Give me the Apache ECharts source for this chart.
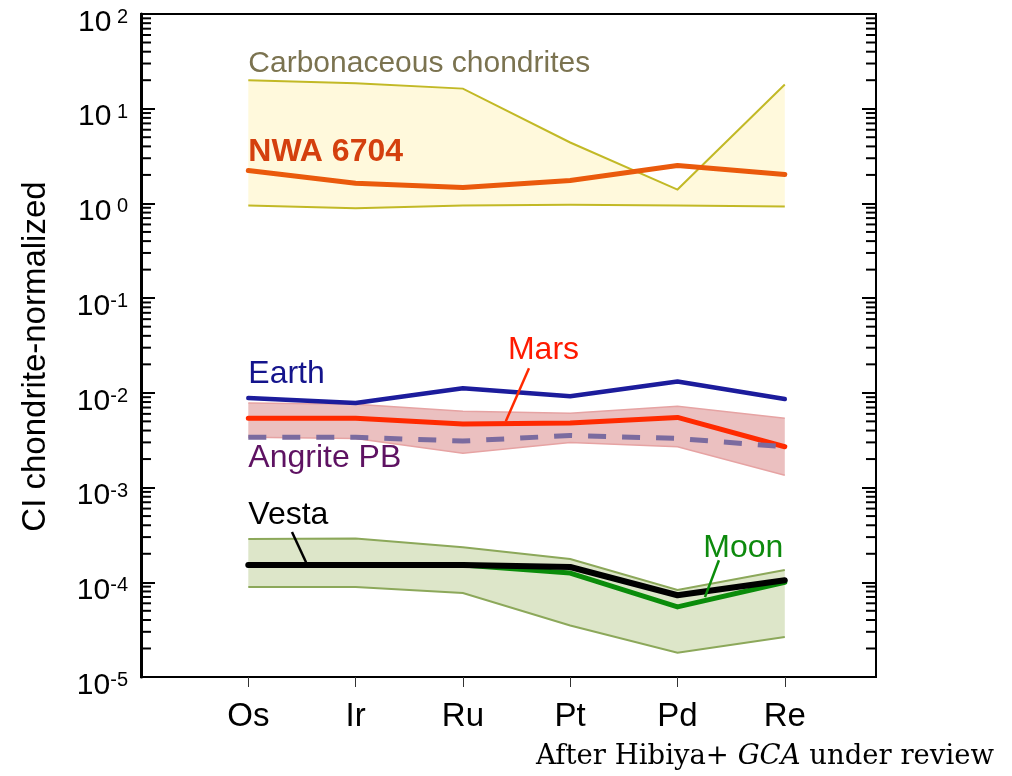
<!DOCTYPE html>
<html>
<head>
<meta charset="utf-8">
<script src="https://cdn.jsdelivr.net/npm/echarts@6/dist/echarts.min.js"></script>
<style>
  html, body { margin: 0; padding: 0; background: #fff; }
  #chart { width: 1012px; height: 776px; }
</style>
</head>
<body>
<div id="chart"></div>
<script>
// Highly siderophile elements, CI chondrite-normalized abundances
const categories = ['Os', 'Ir', 'Ru', 'Pt', 'Pd', 'Re'];

const carbUpper  = [20, 18.6, 16.3, 4.4, 1.4, 18];
const carbLower  = [0.95, 0.89, 0.95, 0.97, 0.95, 0.93];
const nwa6704    = [2.23, 1.63, 1.47, 1.75, 2.52, 2.02];

const earth      = [8.8e-3, 7.8e-3, 1.12e-2, 9.2e-3, 1.32e-2, 8.6e-3];
const mars       = [5.4e-3, 5.4e-3, 4.7e-3, 4.8e-3, 5.5e-3, 2.7e-3];
const marsUpper  = [7.8e-3, 7.6e-3, 6.4e-3, 6.1e-3, 7.2e-3, 5.4e-3];
const marsLower  = [3.4e-3, 3.3e-3, 2.3e-3, 3.0e-3, 2.7e-3, 1.35e-3];
const angritePB  = [3.4e-3, 3.4e-3, 3.1e-3, 3.55e-3, 3.3e-3, 2.7e-3];

const vesta      = [1.52e-4, 1.52e-4, 1.52e-4, 1.45e-4, 7.3e-5, 1.05e-4];
const moon       = [1.52e-4, 1.52e-4, 1.52e-4, 1.25e-4, 5.5e-5, 1.0e-4];
const moonUpper  = [2.86e-4, 2.9e-4, 2.35e-4, 1.76e-4, 8.3e-5, 1.35e-4];
const moonLower  = [8.9e-5, 8.9e-5, 7.7e-5, 3.5e-5, 1.8e-5, 2.64e-5];

// y axis: decades and the minor tick multipliers inside each decade
const decades = [-5, -4, -3, -2, -1, 0, 1];
const minorMultipliers = [2, 3, 4, 5, 6, 7, 8, 9];

const SANS = '"Liberation Sans", Arial, Helvetica, sans-serif';
const SERIF = '"DejaVu Serif", "Liberation Serif", serif';

// text annotations placed in data space: [category position, value]
const notes = [
  { text: 'Carbonaceous chondrites', at: [0, 30.0],    color: '#7b7350', size: 30, weight: 'normal' },
  { text: 'NWA 6704',                at: [0, 3.49],    color: '#d4400e', size: 32, weight: 'bold' },
  { text: 'Earth',                   at: [0, 0.0159],  color: '#14148c', size: 32, weight: 'normal' },
  { text: 'Mars',                    at: [2.42, 0.0285], color: '#ff1a00', size: 32, weight: 'normal' },
  { text: 'Angrite PB',              at: [0, 0.00204], color: '#5e1262', size: 32, weight: 'normal' },
  { text: 'Vesta',                   at: [0, 5.12e-4], color: '#000000', size: 32, weight: 'normal' },
  { text: 'Moon',                    at: [4.24, 2.30e-4], color: '#0d8a0d', size: 32, weight: 'normal' }
];
const leaders = [
  { from: [2.616, 0.01815], to: [2.40, 0.00501], color: '#ff2a00' },
  { from: [0.407, 3.39e-4], to: [0.538, 1.63e-4], color: '#000000' },
  { from: [4.386, 1.71e-4], to: [4.256, 6.98e-5], color: '#0a8c0a' }
];

const minorTickValues = [];
decades.forEach(e => minorMultipliers.forEach(m => minorTickValues.push(m * Math.pow(10, e))));

function pts(values) { return values.map((v, i) => [i, v]); }

function bandSeries(name, upper, lower, fill, stroke, strokeWidth) {
  return {
    type: 'custom', name, z: 1, silent: true,
    data: [[0, upper[0]]],
    renderItem(params, api) {
      const up = upper.map((v, i) => api.coord([i, v]));
      const lo = lower.map((v, i) => api.coord([i, v]));
      return {
        type: 'group',
        children: [
          { type: 'polygon', shape: { points: up.concat(lo.slice().reverse()) }, style: { fill: fill, stroke: null } },
          { type: 'polyline', shape: { points: up }, style: { stroke: stroke, lineWidth: strokeWidth, fill: null } },
          { type: 'polyline', shape: { points: lo }, style: { stroke: stroke, lineWidth: strokeWidth, fill: null } }
        ]
      };
    }
  };
}

function lineSeries(name, values, color, width, z, dash) {
  return {
    type: 'line', name, z, silent: true,
    data: pts(values),
    symbol: 'none', showSymbol: false,
    lineStyle: { color, width, type: dash || 'solid', cap: dash ? 'butt' : 'round', join: 'round' }
  };
}

const chart = echarts.init(document.getElementById('chart'), null, { renderer: 'canvas' });

chart.setOption({
  animation: false,
  backgroundColor: '#ffffff',
  grid: { left: 141, right: 136, top: 14, bottom: 99, show: true, borderColor: '#000', borderWidth: 2, backgroundColor: 'transparent' },
  xAxis: {
    type: 'value', min: -1, max: 5.85, interval: 1,
    axisLine: { show: true, onZero: false, lineStyle: { color: '#000', width: 2 } },
    axisTick: { show: true, customValues: [0, 1, 2, 3, 4, 5], length: 10, lineStyle: { color: '#333', width: 1 } },
    axisLabel: {
      customValues: [0, 1, 2, 3, 4, 5],
      formatter: v => categories[Math.round(v)] || '',
      fontSize: 33, fontFamily: SANS, color: '#000', margin: 23
    },
    splitLine: { show: false }
  },
  yAxis: [
    {
      type: 'log', logBase: 10, min: 1e-5, max: 100, interval: 1, position: 'left',
      name: 'CI chondrite-normalized', nameLocation: 'middle', nameGap: 89,
      nameTextStyle: { fontSize: 33, fontFamily: SANS, color: '#000', padding: [0, 22, 0, 0] },
      axisLine: { show: true, onZero: false, lineStyle: { color: '#000', width: 3 } },
      axisTick: { show: true, inside: true, length: 14, lineStyle: { color: '#000', width: 2 } },
      axisLabel: {
        margin: 13,
        padding: [17, 0, 0, 0],
        formatter: v => {
          const e = Math.round(Math.log10(v));
          return '{b|10}{s|' + (e >= 0 ? ' ' + e : '-' + (-e)) + '}';
        },
        rich: {
          b: { fontSize: 30, fontFamily: SANS, color: '#000' },
          s: { fontSize: 20, fontFamily: SANS, color: '#000', verticalAlign: 'top' }
        }
      },
      splitLine: { show: false }
    },
    {
      type: 'log', logBase: 10, min: 1e-5, max: 100, interval: 1, position: 'right',
      axisLine: { show: true, onZero: false, lineStyle: { color: '#000', width: 2 } },
      axisTick: { show: true, inside: true, length: 14, lineStyle: { color: '#000', width: 2 } },
      axisLabel: { show: false },
      splitLine: { show: false }
    }
  ],
  series: [
    bandSeries('Carbonaceous chondrites', carbUpper, carbLower, '#fff9dc', '#c2b926', 2),
    bandSeries('Mars range', marsUpper, marsLower, '#ebc0c0', '#e6a3a3', 1.5),
    bandSeries('Moon range', moonUpper, moonLower, '#dde6c9', '#8ca85a', 2),
    lineSeries('NWA 6704', nwa6704, '#ea5a0c', 5, 5),
    lineSeries('Earth', earth, '#1c1c9c', 4.5, 5),
    lineSeries('Mars', mars, '#ff2a00', 5, 5),
    lineSeries('Angrite PB', angritePB, '#7b6b9f', 5, 6, [18, 16]),
    lineSeries('Moon', moon, '#0a8c0a', 5, 5),
    lineSeries('Vesta', vesta, '#000000', 6, 6),
    {
      type: 'custom', name: 'minor ticks', z: 8, silent: true,
      data: minorTickValues.map(v => [0, v]),
      renderItem(params, api) {
        const cs = params.coordSys;
        const y = api.coord([0, api.value(1)])[1];
        const s = { stroke: '#000', lineWidth: 2 };
        return {
          type: 'group',
          children: [
            { type: 'line', shape: { x1: cs.x, y1: y, x2: cs.x + 10, y2: y }, style: s },
            { type: 'line', shape: { x1: cs.x + cs.width, y1: y, x2: cs.x + cs.width - 10, y2: y }, style: s }
          ]
        };
      }
    },
    {
      type: 'custom', name: 'leaders', z: 9, silent: true,
      data: leaders.map(l => l.from),
      renderItem(params, api) {
        const l = leaders[params.dataIndex];
        const a = api.coord(l.from), b = api.coord(l.to);
        return { type: 'line', shape: { x1: a[0], y1: a[1], x2: b[0], y2: b[1] }, style: { stroke: l.color, lineWidth: 2.5 } };
      }
    },
    {
      type: 'custom', name: 'notes', z: 10, silent: true,
      data: notes.map(n => n.at),
      renderItem(params, api) {
        const n = notes[params.dataIndex];
        const p = api.coord(n.at);
        return {
          type: 'text', x: p[0], y: p[1],
          style: { text: n.text, fill: n.color, fontSize: n.size, fontWeight: n.weight, fontFamily: SANS, align: 'left', verticalAlign: 'middle' }
        };
      }
    }
  ],
  graphic: [
    {
      type: 'text', x: 994, y: 757,
      style: {
        text: 'After Hibiya+ {i|GCA} under review',
        fontSize: 27.5, fontFamily: SERIF, fill: '#000', align: 'right', verticalAlign: 'middle',
        rich: { i: { fontStyle: 'italic', fontSize: 27.5, fontFamily: SERIF, fill: '#000' } }
      }
    }
  ]
});
</script>
</body>
</html>
